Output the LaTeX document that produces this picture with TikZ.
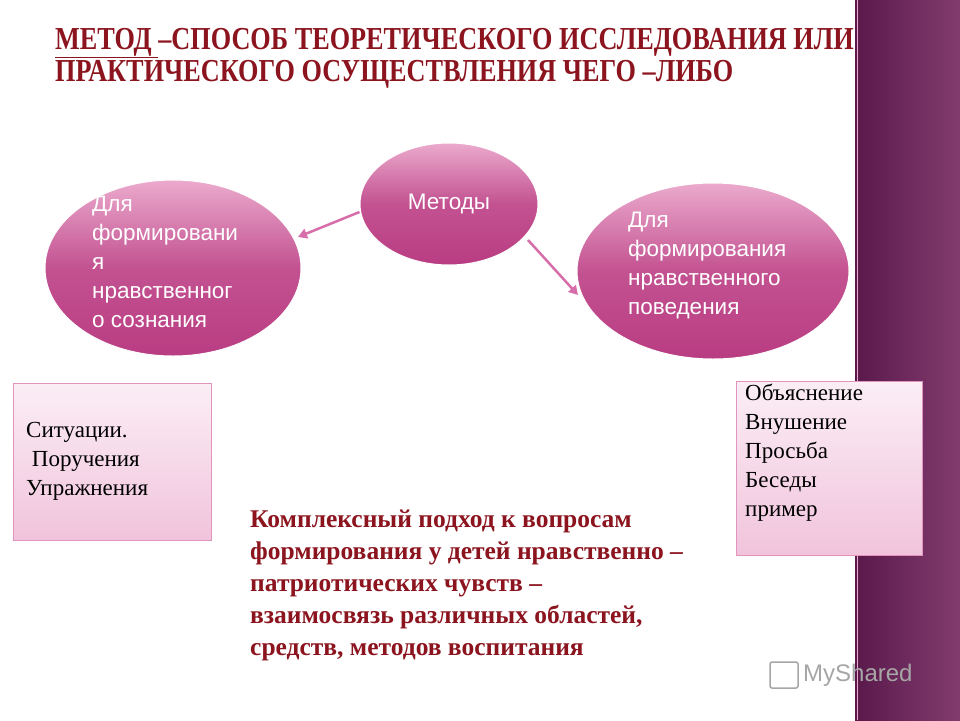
\documentclass[tikz,border=0pt]{standalone}
\usepackage{fontspec}
\setmainfont{Liberation Serif}
\newfontfamily\sansf{Liberation Sans}
\usetikzlibrary{arrows.meta,shapes.geometric}
\definecolor{titlered}{RGB}{140,20,30}
\definecolor{plum}{RGB}{90,25,75}
\definecolor{plumlight}{RGB}{130,60,110}
\definecolor{mag}{RGB}{185,60,130}
\definecolor{pinkl}{RGB}{235,170,205}
\definecolor{arr}{RGB}{215,110,170}
\tikzset{
  oval/.style={ellipse, draw=white, line width=1pt, top color=pinkl, bottom color=mag, middle color=mag!80!pinkl},
  ovaltext/.style={text=white, font=\sansf\fontsize{22.5}{29}\selectfont, align=left, anchor=north west, inner sep=0pt},
  side/.style={draw=pinkl!80!mag, top color=pinkl!20, bottom color=pinkl!70, anchor=north west, inner sep=0pt},
  sidetext/.style={font=\fontsize{23}{29}\selectfont, align=left, anchor=north west, inner sep=0pt},
  link/.style={draw=arr, line width=2.5pt, -{Triangle[length=9pt,width=10pt]}},
}
\begin{document}
\begin{tikzpicture}[x=1pt,y=-1pt]
\useasboundingbox (0,0) rectangle (960,720);
\fill[white] (0,0) rectangle (960,720);
\shade[left color=plum, right color=plumlight] (855,0) rectangle (960,720);
\draw[pinkl, line width=1pt] (857,0) -- (857,720);
\node[anchor=west, text=titlered, font=\bfseries\fontsize{32}{32}\selectfont, align=left, inner sep=0pt, xscale=0.82] (title) at (55,58) {\underline{МЕТОД }–СПОСОБ ТЕОРЕТИЧЕСКОГО ИССЛЕДОВАНИЯ ИЛИ\\ПРАКТИЧЕСКОГО ОСУЩЕСТВЛЕНИЯ ЧЕГО –ЛИБО};
\node[oval, minimum width=178, minimum height=122] (m) at (449,204) {};
\node[text=white, font=\sansf\fontsize{22.5}{24}\selectfont] (mt) at (449,204) {Методы};
\node[oval, minimum width=256, minimum height=176] (l) at (173,268) {};
\node[ovaltext] (lt) at (92,196) {Для\\формировани\\я\\нравственног\\о сознания};
\node[oval, minimum width=272, minimum height=176] (r) at (713,271) {};
\node[ovaltext] (rt) at (628,212) {Для\\формирования\\нравственного\\поведения};
\draw[link] (m.west) ++(0,8) coordinate (a1) -- (298,237) coordinate (a2);
\draw[link] (528,240) coordinate (b1) -- (578,295) coordinate (b2);
\node[side, minimum width=198, minimum height=157] (lb) at (13,383) {};
\node[sidetext] (lbt) at (26,422) {Ситуации.\\\ Поручения\\Упражнения};
\node[side, minimum width=186, minimum height=174] (rb) at (736,381) {};
\node[sidetext] (rbt) at (745,384) {Объяснение\\Внушение\\Просьба\\Беседы\\пример};
\node[text=titlered, font=\bfseries\fontsize{25.5}{32}\selectfont, align=left, anchor=north west, inner sep=0pt] (body) at (250,510) {Комплексный подход к вопросам\\формирования у детей нравственно –\\патриотических чувств –\\взаимосвязь различных областей,\\средств, методов воспитания};
\node[text=gray!70, font=\sansf\fontsize{24}{24}\selectfont, anchor=west, inner sep=0pt] (logo) at (803,675) {MyShared};
\draw[gray!70, line width=1.5pt, rounded corners=2pt] (770,662) rectangle (798,688);
\end{tikzpicture}
\end{document}
